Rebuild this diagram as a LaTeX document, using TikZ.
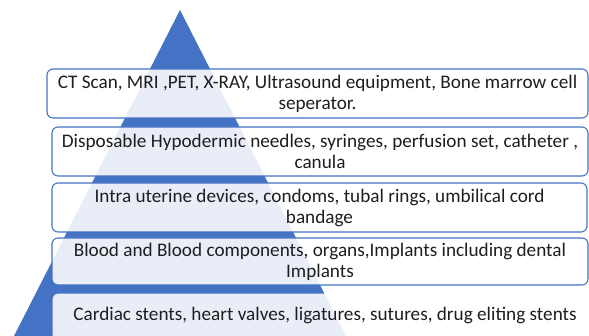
\documentclass[tikz,border=0pt]{standalone}
\usepackage{fontspec}
\setmainfont{Carlito}
\usetikzlibrary{positioning}
\definecolor{pyrblue}{RGB}{68, 114, 196}
\definecolor{txt}{RGB}{30, 30, 30}
\tikzset{
    tier/.style={rectangle, rounded corners=6pt, draw=pyrblue, line width=1.1pt, fill=white, fill opacity=0.88, text opacity=1, align=center, inner sep=0pt, font=\fontsize{19.2}{21}\selectfont, text=txt},
    pyr/.style={fill=pyrblue, draw=none}
}
\begin{document}
\begin{tikzpicture}[x=1pt, y=-1pt]
    \useasboundingbox (0,0) rectangle (589,336);
    \clip (0,0) rectangle (589,336);
    \coordinate (top) at (180,10);
    \coordinate (bl) at (12,340);
    \coordinate (br) at (348,340);
    \fill[pyr] (top) -- (bl) -- (br) -- cycle;
    \node[tier, minimum width=541pt, minimum height=49pt] (scan) at (317.5,93.5) {CT Scan, MRI ,PET, X-RAY, Ultrasound equipment, Bone marrow cell\\ seperator.};
    \node[tier, minimum width=536pt, minimum height=49pt] (disp) at (320,151.5) {Disposable Hypodermic needles, syringes, perfusion set, catheter ,\\ canula};
    \node[tier, minimum width=535pt, minimum height=49pt] (iud) at (319.5,207.5) {Intra uterine devices, condoms, tubal rings, umbilical cord\\ bandage};
    \node[tier, minimum width=536pt, minimum height=47pt] (blood) at (320,261.5) {Blood and Blood components, organs,Implants including dental\\ Implants};
    \node[tier, draw=none, minimum width=540pt, minimum height=47pt, anchor=north west] (stent) at (52,293) {};
    \node[font=\fontsize{19.2}{21}\selectfont, text=txt] (stentlbl) at (325,315) {Cardiac stents, heart valves, ligatures, sutures, drug eliting stents};
\end{tikzpicture}
\end{document}
